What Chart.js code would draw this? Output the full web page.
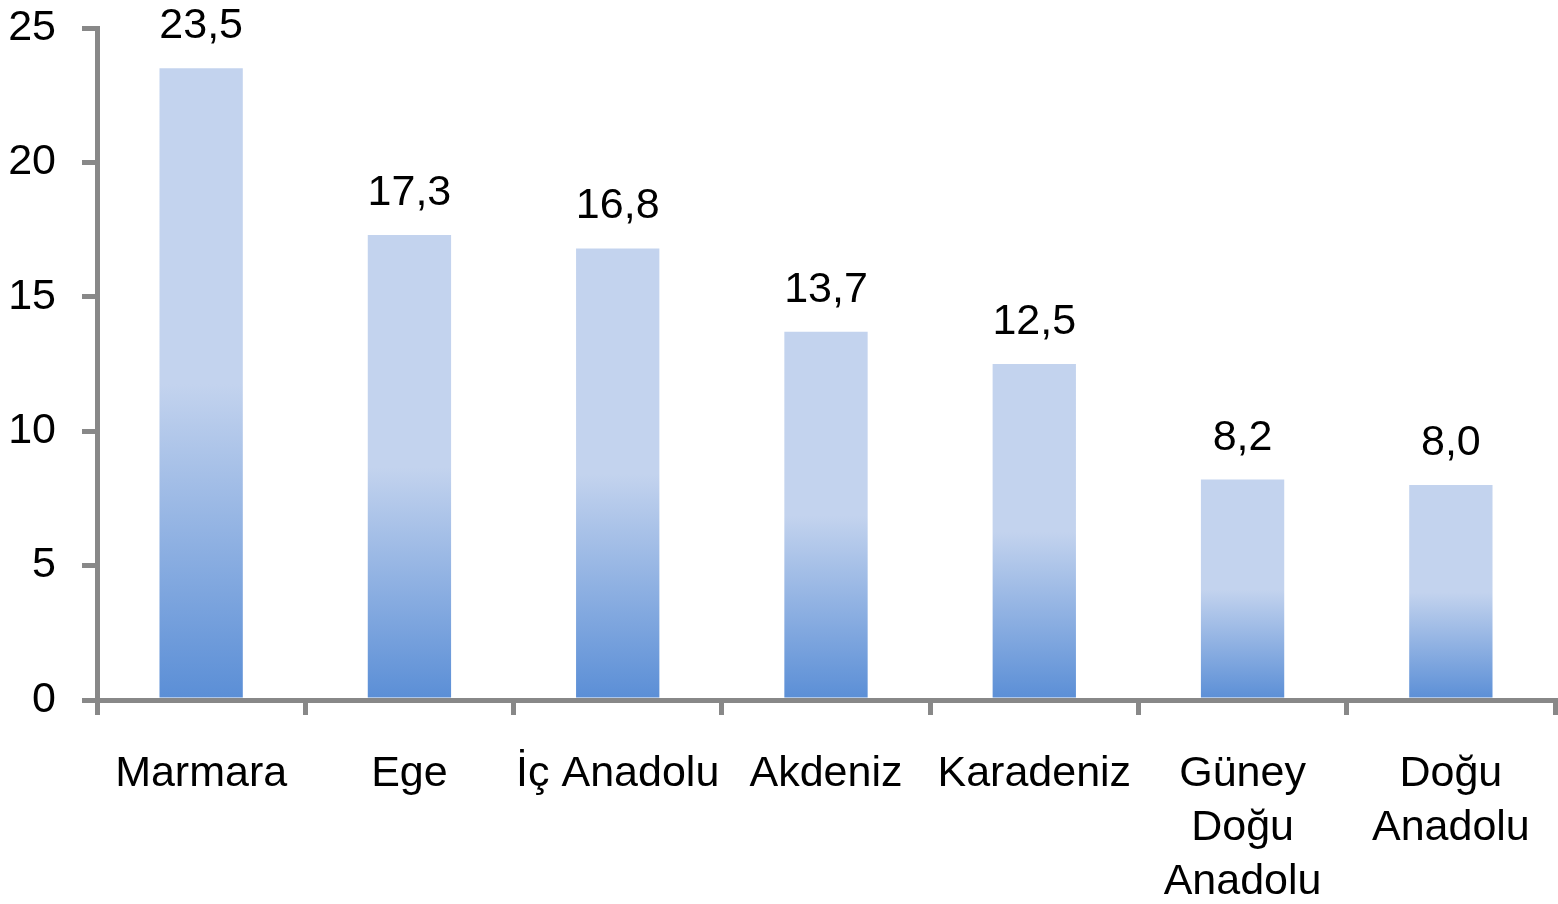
<!DOCTYPE html>
<html>
<head>
<meta charset="utf-8">
<script src="https://cdn.jsdelivr.net/npm/chart.js@4/dist/chart.umd.min.js"></script>
<style>
html,body{margin:0;padding:0;background:#fff;}
#wrap{width:1558px;height:904px;position:relative;}
</style>
</head>
<body>
<div id="wrap"><canvas id="c" width="1558" height="904"></canvas></div>
<script>
const categories = ['Marmara', 'Ege', 'İç Anadolu', 'Akdeniz', 'Karadeniz', ['Güney', 'Doğu', 'Anadolu'], ['Doğu', 'Anadolu']];
const values = [23.5, 17.3, 16.8, 13.7, 12.5, 8.2, 8.0];
const yTicks = [0, 5, 10, 15, 20, 25];

const FONT = "'Liberation Sans', Arial, sans-serif";
const AXIS = '#888888';

function barFill(ctx) {
  const chart = ctx.chart;
  const area = chart.chartArea;
  if (!area || ctx.parsed === undefined) return '#C3D3EE';
  const y = chart.scales.y;
  const base = y.getPixelForValue(0);
  const top = y.getPixelForValue(ctx.parsed.y);
  const g = chart.ctx.createLinearGradient(0, base, 0, top);
  g.addColorStop(0, '#5A8ED6');
  g.addColorStop(0.5, '#C3D3EE');
  g.addColorStop(1, '#C3D3EE');
  return g;
}

const valueLabels = {
  id: 'valueLabels',
  afterDatasetsDraw(chart) {
    const c = chart.ctx;
    const meta = chart.getDatasetMeta(0);
    c.save();
    c.font = '43px ' + FONT;
    c.fillStyle = '#000';
    c.textAlign = 'center';
    c.textBaseline = 'alphabetic';
    meta.data.forEach((bar, i) => {
      c.fillText(values[i].toFixed(1).replace('.', ','), bar.x, bar.y - 30);
    });
    c.restore();
  }
};

new Chart(document.getElementById('c'), {
  type: 'bar',
  data: {
    labels: categories,
    datasets: [{
      data: values,
      backgroundColor: barFill,
      borderWidth: 0,
      barPercentage: 0.4,
      categoryPercentage: 1.0
    }]
  },
  options: {
    responsive: false,
    animation: false,
    devicePixelRatio: 1,
    layout: { padding: { top: 28, right: 3, left: 0, bottom: 0 } },
    plugins: { legend: { display: false }, tooltip: { enabled: false } },
    scales: {
      x: {
        grid: { display: true, drawOnChartArea: false, drawTicks: true, tickLength: 15, color: AXIS, lineWidth: 5, offset: true },
        border: { display: true, color: AXIS, width: 5 },
        ticks: { color: '#000', font: { family: FONT, size: 43, lineHeight: 1.26 }, padding: 32, maxRotation: 0, autoSkip: false },
        afterFit(s) { s.height = 204; s.paddingLeft = 0; s.paddingRight = 0; s.paddingTop = 0; s.paddingBottom = 0; }
      },
      y: {
        min: 0, max: 25,
        afterBuildTicks(s) { s.ticks = yTicks.map(v => ({ value: v })); },
        grid: { display: true, drawOnChartArea: false, drawTicks: true, tickLength: 15, color: AXIS, lineWidth: 5 },
        border: { display: true, color: AXIS, width: 5 },
        ticks: { color: '#000', font: { family: FONT, size: 43 }, padding: 26 },
        afterFit(s) { s.width = 97; s.paddingLeft = 0; s.paddingRight = 0; s.paddingTop = 0; s.paddingBottom = 0; }
      }
    }
  },
  plugins: [valueLabels]
});
</script>
</body>
</html>
